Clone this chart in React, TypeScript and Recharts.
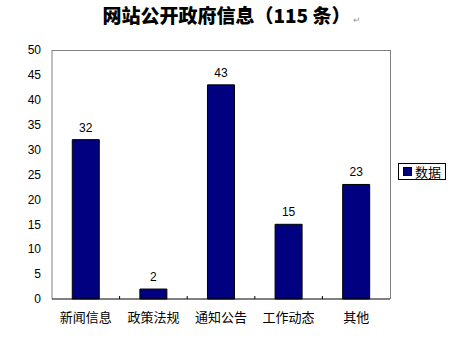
import React from 'react';
import { BarChart, Bar, XAxis, YAxis, LabelList } from 'recharts';

const categories = ['新闻信息', '政策法规', '通知公告', '工作动态', '其他'];
const counts = [32, 2, 43, 15, 23];
const seriesName = '数据';
const yTicks = [0, 5, 10, 15, 20, 25, 30, 35, 40, 45, 50];

const NAVY = '#000080';
const FONT = '"Liberation Sans", Arial, "Noto Sans CJK SC", sans-serif';
const CJK = '"Noto Sans CJK SC", sans-serif';

const chartData = categories.map((name, i) => ({ name, value: counts[i] }));

// category label plus a short inward tick at the left edge of its band
const CategoryTick = (props: any) => {
  const { x, y, payload, index } = props;
  const half = payload?.offset;
  return (
    <g>
      {index > 0 && typeof half === 'number' && (
        <line x1={x - half} x2={x - half} y1={y} y2={y - 3} stroke="#000" strokeWidth={1} />
      )}
      <text
        x={x}
        y={y + 14}
        dy="0.71em"
        textAnchor="middle"
        fill="#000"
        fontSize={13}
        fontFamily={CJK}
      >
        {payload.value}
      </text>
    </g>
  );
};

const App: React.FC = () => {
  return (
    <div
      style={{
        position: 'absolute',
        left: 0,
        top: 0,
        width: 463,
        height: 337,
        background: '#fff',
        fontFamily: FONT,
      }}
    >
      <div
        style={{
          position: 'absolute',
          left: 0,
          top: 2,
          width: 463,
          textAlign: 'center',
          fontFamily: CJK,
          fontWeight: 900,
          fontSize: 19,
          lineHeight: '26px',
          color: '#000',
        }}
      >
        网站公开政府信息（115 条）
        <span style={{ fontSize: 9, color: '#999', fontWeight: 'normal', marginLeft: 2 }}>↵</span>
      </div>

      {/* plot frame: gray top and right edges */}
      <div
        style={{
          position: 'absolute',
          left: 52,
          top: 50,
          width: 339,
          height: 249,
          borderTop: '1px solid #808080',
          borderRight: '1px solid #808080',
          boxSizing: 'border-box',
          pointerEvents: 'none',
        }}
      />

      <BarChart
        width={463}
        height={337}
        data={chartData}
        margin={{ top: 50, right: 73, bottom: 0, left: 0 }}
        barCategoryGap="30%"
        style={{ position: 'absolute', left: 0, top: 0 }}
      >
        <YAxis
          width={52}
          domain={[0, 50]}
          ticks={yTicks}
          interval={0}
          axisLine={{ stroke: '#808080' }}
          tickLine={false}
          tickMargin={5}
          tick={{ fill: '#000', fontSize: 12, fontFamily: FONT }}
        />
        <XAxis
          dataKey="name"
          height={38}
          axisLine={{ stroke: '#000' }}
          tickLine={false}
          tickSize={0}
          tickMargin={0}
          interval={0}
          tick={<CategoryTick />}
        />
        <Bar
          dataKey="value"
          name={seriesName}
          fill={NAVY}
          stroke="#000"
          strokeWidth={1}
          isAnimationActive={false}
        >
          <LabelList
            dataKey="value"
            position="top"
            offset={8}
            fill="#000"
            fontSize={12}
            fontFamily={FONT}
          />
        </Bar>
      </BarChart>

      {/* legend */}
      <div
        style={{
          position: 'absolute',
          left: 398,
          top: 163,
          width: 48,
          height: 17,
          border: '1px solid #000',
          background: '#fff',
          display: 'flex',
          alignItems: 'center',
          paddingLeft: 4,
          boxSizing: 'border-box',
          fontFamily: CJK,
          fontSize: 13,
          color: '#000',
          whiteSpace: 'nowrap',
        }}
      >
        <span
          style={{
            display: 'inline-block',
            width: 7,
            height: 7,
            background: NAVY,
            border: '1px solid #000',
            marginRight: 3,
          }}
        />
        <span style={{ lineHeight: '15px' }}>{seriesName}</span>
      </div>
    </div>
  );
};

export default App;
